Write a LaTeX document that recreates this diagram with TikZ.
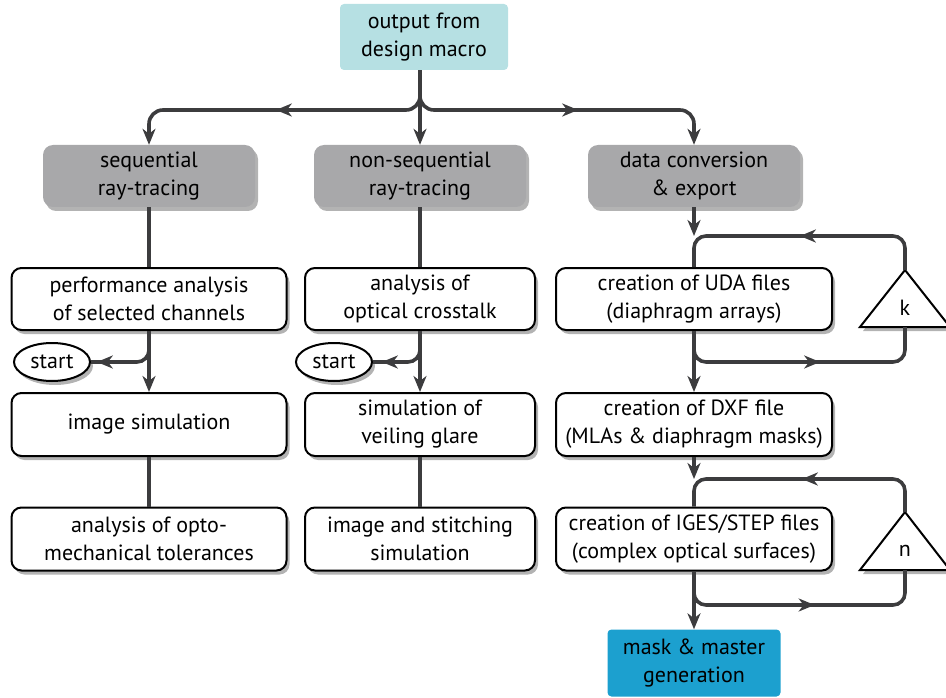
\documentclass[tikz,border=0pt]{standalone}
\usepackage{fontspec}
\setmainfont{PT Sans}
\usetikzlibrary{arrows.meta,shadows,decorations.markings,shapes.geometric}
\definecolor{ln}{HTML}{3C3C3E}
\definecolor{topc}{HTML}{B6E0E3}
\definecolor{botc}{HTML}{1CA0CF}
\definecolor{grayc}{HTML}{A8A8AA}
\begin{document}
\begin{tikzpicture}[x=1pt,y=-1pt,
  font=\fontsize{22}{28}\selectfont,
  shad/.style={drop shadow={shadow xshift=3pt,shadow yshift=-4pt,opacity=0.6}},
  box/.style={draw=black,line width=2pt,fill=white,rounded corners=10pt,align=center,inner sep=0pt,minimum height=62pt,shad},
  gbox/.style={fill=grayc,rounded corners=10pt,align=center,inner sep=0pt,minimum width=212pt,minimum height=62pt,shad},
  startnode/.style={ellipse,draw=black,line width=2pt,fill=white,inner sep=0pt,minimum width=76pt,minimum height=38pt,shad},
  tri/.style={draw=black,line width=2pt,fill=white,shad},
  conn/.style={draw=ln,line width=3.6pt},
  arr/.style={conn,-{Stealth[length=16pt,width=13pt,inset=5pt]}},
  midarr/.style={postaction={decorate},decoration={markings,mark=at position #1 with {\arrow[ln]{Stealth[length=16pt,width=13pt,inset=5pt]}}}}
]
\useasboundingbox (0,0) rectangle (946,698);

% nodes
\node[fill=topc,rounded corners=4pt,minimum width=168pt,minimum height=66pt,align=center,inner sep=0pt] (top) at (424,37) {output from\\design macro};
\node[gbox] (g1) at (149,176) {sequential\\ray-tracing};
\node[gbox] (g2) at (420,176) {non-sequential\\ray-tracing};
\node[gbox] (g3) at (694,176) {data conversion\\\& export};

\node[box,minimum width=275pt] (a1) at (149,299) {performance analysis\\of selected channels};
\node[box,minimum width=230pt] (a2) at (420,299) {analysis of\\optical crosstalk};
\node[box,minimum width=276pt] (a3) at (694,299) {creation of UDA files\\(diaphragm arrays)};

\node[box,minimum width=275pt,minimum height=63pt] (b1) at (149,424.5) {image simulation};
\node[box,minimum width=230pt,minimum height=63pt] (b2) at (420,424.5) {simulation of\\veiling glare};
\node[box,minimum width=276pt,minimum height=63pt] (b3) at (694,424.5) {creation of DXF file\\(MLAs \& diaphragm masks)};

\node[box,minimum width=275pt,minimum height=63pt] (c1) at (149,539) {analysis of opto-\\mechanical tolerances};
\node[box,minimum width=230pt,minimum height=63pt] (c2) at (420,539) {image and stitching\\simulation};
\node[box,minimum width=276pt,minimum height=63pt] (c3) at (694,539) {creation of IGES/STEP files\\(complex optical surfaces)};

\node[fill=botc,rounded corners=4pt,minimum width=173pt,minimum height=67pt,align=center,inner sep=0pt] (bot) at (694,663) {mask \& master\\generation};

\node[startnode] (s1) at (52,362) {start};
\node[startnode] (s2) at (334,362) {start};

% triangles
\filldraw[tri] (860,327) -- (905,270) -- (950,327) -- cycle;
\filldraw[tri] (860,570) -- (905,512) -- (950,570) -- cycle;
\node (kl) at (905,308) {k};
\node (nl) at (905,551) {n};
\coordinate (kapex) at (905,270);
\coordinate (kbase) at (905,327);
\coordinate (napex) at (905,512);
\coordinate (nbase) at (905,570);

% top branching
\coordinate (br) at (420,110);
\draw[arr,rounded corners=14pt,midarr=178pt] (top.south -| br) -- (br) -- (br -| g1) -- (g1.north);
\draw[arr,rounded corners=14pt,midarr=192pt] (top.south -| br) -- (br) -- (br -| g3) -- (g3.north);
\draw[arr] (top.south -| br) -- (g2.north);

% column 1
\draw[conn] (g1.south) -- (a1.north);
\draw[arr] (a1.south) -- (b1.north);
\draw[conn,rounded corners=12pt,midarr=78pt] (a1.south) -- (a1.south |- s1) -- (s1.east);
\draw[conn] (b1.south) -- (c1.north);

% column 2
\draw[conn] (g2.south) -- (a2.north);
\draw[arr] (a2.south) -- (b2.north);
\draw[conn,rounded corners=12pt,midarr=64pt] (a2.south) -- (a2.south |- s2) -- (s2.east);
\draw[conn] (b2.south) -- (c2.north);

% column 3
\coordinate (k1) at (694,236);
\coordinate (k2) at (694,362);
\coordinate (n1) at (694,479);
\coordinate (n2) at (694,605);
\draw[arr] (g3.south) -- (k1);
\draw[conn,rounded corners=12pt,midarr=134pt] (kapex) -- (kapex |- k1) -- (k1) -- (a3.north);
\draw[arr] (a3.south) -- (b3.north);
\draw[conn,rounded corners=12pt,midarr=152pt] (a3.south) -- (k2) -- (k2 -| kbase) -- (kbase);
\draw[arr] (b3.south) -- (n1);
\draw[conn,rounded corners=12pt,midarr=131pt] (napex) -- (napex |- n1) -- (n1) -- (c3.north);
\draw[arr] (c3.south) -- (bot.north);
\draw[conn,rounded corners=12pt,midarr=149pt] (c3.south) -- (n2) -- (n2 -| nbase) -- (nbase);
\end{tikzpicture}
\end{document}
